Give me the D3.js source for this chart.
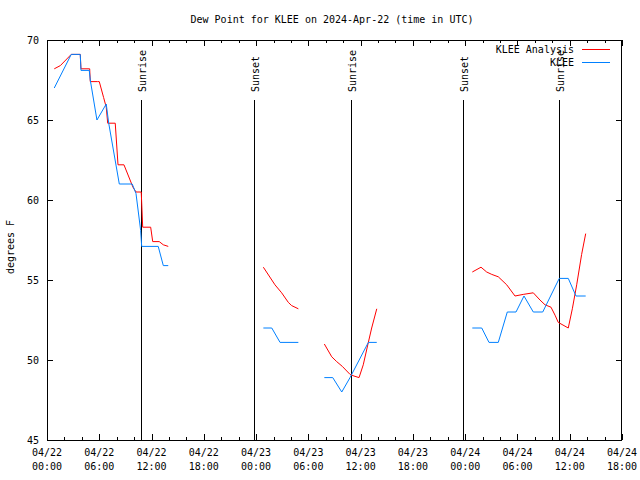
<!DOCTYPE html>
<html>
<head>
<meta charset="utf-8">
<script src="https://cdn.jsdelivr.net/npm/d3@7"></script>
<style>
  body { margin: 0; background: #fff; }
  svg { display: block; }
  text { font-family: "DejaVu Sans Mono", "Liberation Mono", monospace; font-size: 10px; fill: #000; }
</style>
</head>
<body>
<svg id="chart" width="640" height="480"></svg>
<script>
// ---------------- DATA ----------------
const titleText = "Dew Point for KLEE on 2024-Apr-22 (time in UTC)";
const yLabel = "degrees F";
const seriesNames = ["KLEE Analysis", "KLEE"];

// KLEE Analysis (null = gap)
const analysisTimes = [
  "2024-04-22 00:50","2024-04-22 01:32","2024-04-22 02:47","2024-04-22 03:49","2024-04-22 03:54",
  "2024-04-22 04:54","2024-04-22 04:58","2024-04-22 05:49","2024-04-22 06:00","2024-04-22 06:30",
  "2024-04-22 06:48","2024-04-22 06:58","2024-04-22 07:50","2024-04-22 08:09","2024-04-22 08:50",
  "2024-04-22 09:52","2024-04-22 10:13","2024-04-22 10:49","2024-04-22 10:59","2024-04-22 11:54",
  "2024-04-22 12:08","2024-04-22 12:53","2024-04-22 13:21","2024-04-22 13:55",
  null,
  "2024-04-23 00:50","2024-04-23 02:10","2024-04-23 02:56","2024-04-23 03:42","2024-04-23 04:05",
  "2024-04-23 04:51",
  null,
  "2024-04-23 07:50","2024-04-23 08:41","2024-04-23 09:15","2024-04-23 09:54","2024-04-23 10:47",
  "2024-04-23 11:14","2024-04-23 11:49","2024-04-23 12:18","2024-04-23 12:53","2024-04-23 13:16",
  "2024-04-23 13:51",
  null,
  "2024-04-24 00:49","2024-04-24 01:49","2024-04-24 02:28","2024-04-24 03:03","2024-04-24 03:48",
  "2024-04-24 04:46","2024-04-24 05:43","2024-04-24 06:40","2024-04-24 07:49","2024-04-24 08:35",
  "2024-04-24 09:10","2024-04-24 09:51","2024-04-24 10:19","2024-04-24 10:41","2024-04-24 11:50",
  "2024-04-24 12:18","2024-04-24 12:48","2024-04-24 13:22","2024-04-24 13:50"
];
const analysisValues = [
  68.2, 68.4, 69.1, 69.1, 68.2,
  68.2, 67.4, 67.4, 67.4, 66.4,
  65.8, 64.8, 64.8, 62.2, 62.2,
  60.8, 60.5, 60.5, 58.3, 58.3,
  57.4, 57.4, 57.2, 57.1,
  null,
  55.8, 54.7, 54.2, 53.6, 53.4,
  53.2,
  null,
  51.0, 50.2, 49.9, 49.6, 49.1,
  49.0, 48.9, 49.7, 51.1, 52.0,
  53.2,
  null,
  55.5, 55.8, 55.5, 55.35, 55.2,
  54.7, 54.0, 54.1, 54.2, 53.75,
  53.45, 53.3, 52.8, 52.35, 52.0,
  53.2, 54.7, 56.6, 57.9
];

// KLEE observations (null = gap)
const obsTimes = [
  "2024-04-22 00:50","2024-04-22 02:47","2024-04-22 03:49","2024-04-22 03:54","2024-04-22 04:51",
  "2024-04-22 04:58","2024-04-22 05:44","2024-04-22 06:48","2024-04-22 07:05","2024-04-22 08:18",
  "2024-04-22 09:47","2024-04-22 10:13","2024-04-22 10:45","2024-04-22 10:52","2024-04-22 12:46",
  "2024-04-22 13:21","2024-04-22 13:55",
  null,
  "2024-04-23 00:50","2024-04-23 01:48","2024-04-23 02:45","2024-04-23 04:51",
  null,
  "2024-04-23 07:50","2024-04-23 08:48","2024-04-23 09:50","2024-04-23 10:47","2024-04-23 12:53",
  "2024-04-23 13:51",
  null,
  "2024-04-24 00:49","2024-04-24 01:54","2024-04-24 02:44","2024-04-24 03:48","2024-04-24 04:50",
  "2024-04-24 05:50","2024-04-24 06:45","2024-04-24 07:49","2024-04-24 08:54","2024-04-24 10:48",
  "2024-04-24 11:50","2024-04-24 12:43","2024-04-24 13:50"
];
const obsValues = [
  67.0, 69.1, 69.1, 68.1, 68.1,
  67.5, 65.0, 66.0, 64.8, 61.0,
  61.0, 60.4, 58.1, 57.1, 57.1,
  55.9, 55.9,
  null,
  52.0, 52.0, 51.1, 51.1,
  null,
  48.9, 48.9, 48.0, 48.9, 51.1,
  51.1,
  null,
  52.0, 52.0, 51.1, 51.1, 53.0,
  53.0, 54.0, 53.0, 53.0, 55.1,
  55.1, 54.0, 54.0
];

// Sun events
const eventTimes = ["2024-04-22 10:50","2024-04-22 23:48","2024-04-23 10:52","2024-04-23 23:48","2024-04-24 10:48"];
const eventLabels = ["Sunrise","Sunset","Sunrise","Sunset","Sunrise"];

// Axis settings
const xStart = "2024-04-22 00:00", xEnd = "2024-04-24 18:00";
const yTicks = [45, 50, 55, 60, 65, 70];

// ---------------- DRAW ----------------
const parse = d3.utcParse("%Y-%m-%d %H:%M");
const W = 640, H = 480;
const L = 47, R = 622, T = 40, B = 440;
const colors = ["#ff0000", "#0080ff"];

const svg = d3.select("#chart");
svg.append("rect").attr("width", W).attr("height", H).attr("fill", "#fff");

const x = d3.scaleUtc().domain([parse(xStart), parse(xEnd)]).range([L, R]);
const y = d3.scaleLinear().domain([45, 70]).range([B, T]);

// title
svg.append("text").attr("x", 332).attr("y", 23).attr("text-anchor", "middle").text(titleText);

// y label
svg.append("text").attr("transform", "translate(14,247) rotate(-90)")
  .attr("text-anchor", "middle").text(yLabel);

// axes (ticks inward)
const majorX = d3.utcHour.every(6).range(parse(xStart), new Date(+parse(xEnd) + 1));
const minorX = d3.utcHour.every(2).range(parse(xStart), new Date(+parse(xEnd) + 1));

function styleAxis(g) {
  g.select(".domain").remove();
  g.selectAll("line").attr("stroke", "#000").attr("shape-rendering", "crispEdges");
}

svg.append("g").attr("transform", `translate(0,${B})`)
  .call(d3.axisBottom(x).tickValues(minorX).tickSize(-3).tickFormat(""))
  .call(styleAxis);
svg.append("g").attr("transform", `translate(0,${B})`)
  .call(d3.axisBottom(x).tickValues(majorX).tickSize(-6).tickFormat(""))
  .call(styleAxis);
svg.append("g").attr("transform", `translate(0,${T})`)
  .call(d3.axisTop(x).tickValues(minorX).tickSize(-3).tickFormat(""))
  .call(styleAxis);
svg.append("g").attr("transform", `translate(0,${T})`)
  .call(d3.axisTop(x).tickValues(majorX).tickSize(-6).tickFormat(""))
  .call(styleAxis);

const gl = svg.append("g").attr("transform", `translate(${L},0)`)
  .call(d3.axisLeft(y).tickValues(yTicks).tickSize(-6).tickPadding(8).tickFormat(d3.format("d")))
  .call(styleAxis);
gl.selectAll("text").style("font-family", "'DejaVu Sans Mono', monospace").style("font-size", "10px").attr("fill", "#000");
svg.append("g").attr("transform", `translate(${R},0)`)
  .call(d3.axisRight(y).tickValues(yTicks).tickSize(-6).tickFormat(""))
  .call(styleAxis);

// x tick labels (two lines)
const fmtD = d3.utcFormat("%m/%d"), fmtT = d3.utcFormat("%H:%M");
const xl = svg.append("g");
majorX.forEach(d => {
  const t = xl.append("text").attr("text-anchor", "middle");
  t.append("tspan").attr("x", x(d)).attr("y", 456).text(fmtD(d));
  t.append("tspan").attr("x", x(d)).attr("y", 470).text(fmtT(d));
});

// border
svg.append("rect").attr("x", L + 0.5).attr("y", T + 0.5).attr("width", R - L - 1).attr("height", B - T)
  .attr("fill", "none").attr("stroke", "#000").attr("shape-rendering", "crispEdges");

// sun events
eventTimes.forEach((t, i) => {
  const xx = Math.round(x(parse(t))) + 0.5;
  svg.append("line").attr("x1", xx).attr("x2", xx).attr("y1", 100).attr("y2", B)
    .attr("stroke", "#000").attr("shape-rendering", "crispEdges");
  svg.append("text").attr("transform", `translate(${xx + 4},92) rotate(-90)`)
    .attr("text-anchor", "start").text(eventLabels[i]);
});

// series
function mk(times, values) {
  return times.map((t, i) => ({ t: t ? parse(t) : null, v: values[i] }));
}
const line = d3.line().defined(d => d.v != null && d.t != null).x(d => x(d.t)).y(d => y(d.v));
[mk(analysisTimes, analysisValues), mk(obsTimes, obsValues)].forEach((data, i) => {
  svg.append("path").datum(data).attr("d", line).attr("fill", "none")
    .attr("stroke", colors[i]).attr("stroke-width", 1);
});

// legend
seriesNames.forEach((n, i) => {
  const ly = 49 + i * 13;
  svg.append("text").attr("x", 574).attr("y", ly + 4).attr("text-anchor", "end").text(n);
  svg.append("line").attr("x1", 582).attr("x2", 610).attr("y1", ly + 0.5).attr("y2", ly + 0.5)
    .attr("stroke", colors[i]).attr("shape-rendering", "crispEdges");
});
</script>
</body>
</html>
